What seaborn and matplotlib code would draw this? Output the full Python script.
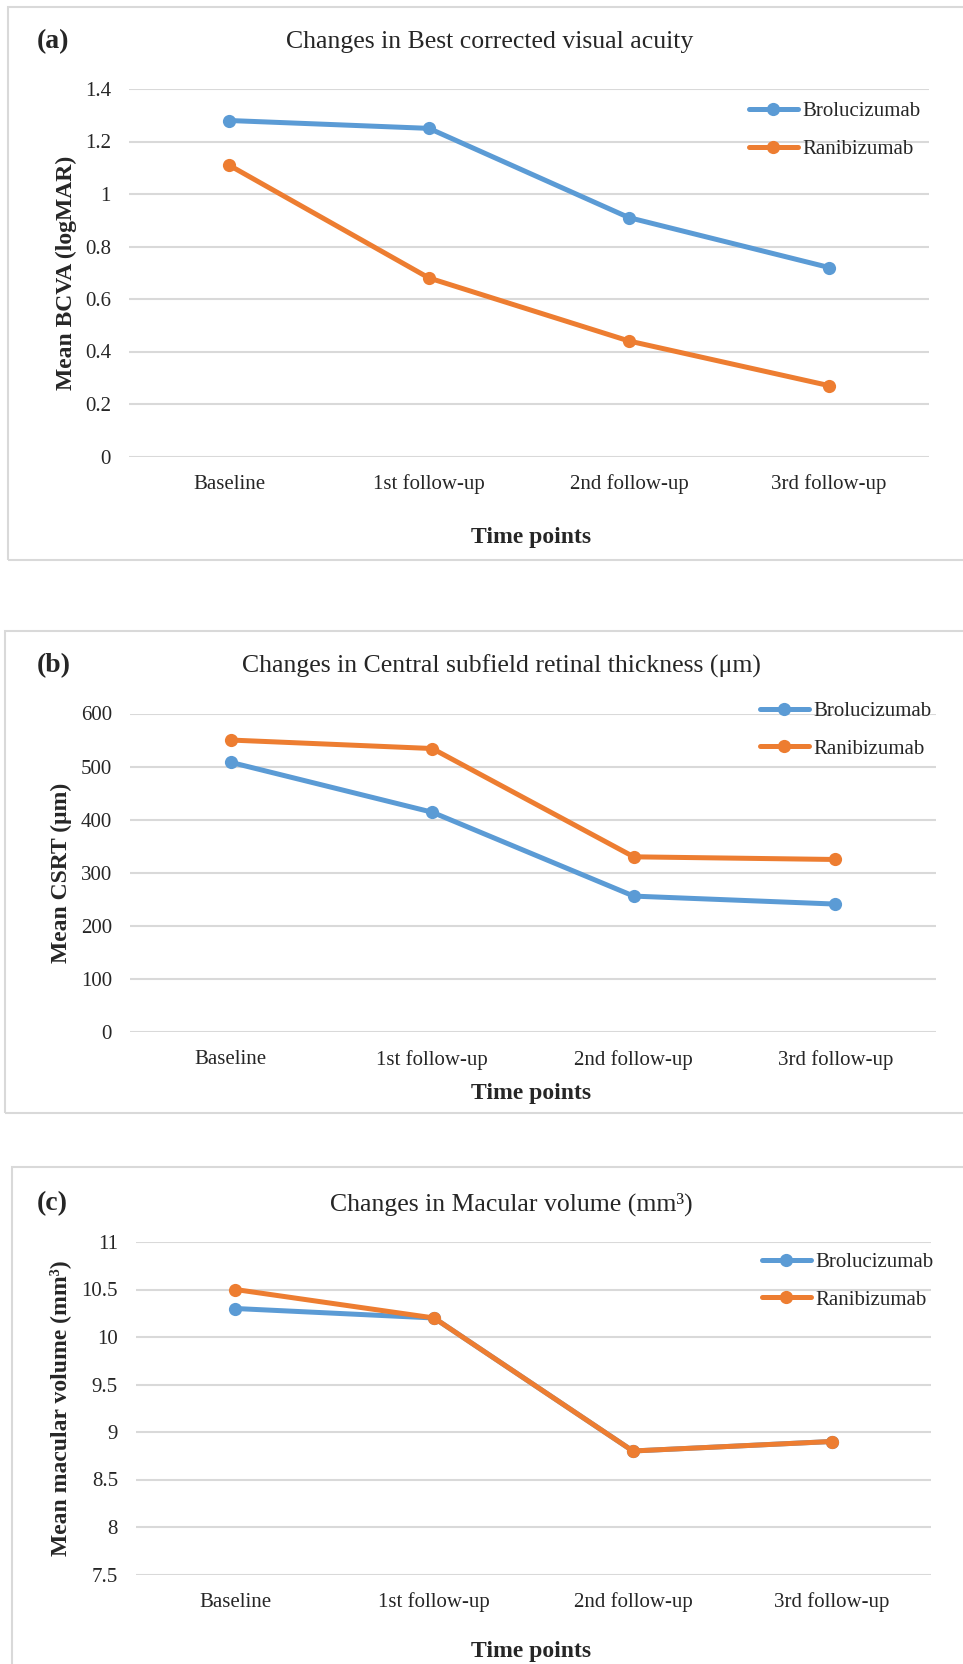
import matplotlib
matplotlib.use("Agg")
import pandas as pd
import matplotlib.pyplot as plt
import seaborn as sns
from matplotlib.patches import Rectangle

W, H = 963, 1664

time_points = ["Baseline", "1st follow-up", "2nd follow-up", "3rd follow-up"]
groups = ["Brolucizumab", "Ranibizumab"]

# (a) best corrected visual acuity, logMAR
bcva_brolucizumab = [1.28, 1.25, 0.91, 0.72]
bcva_ranibizumab = [1.11, 0.68, 0.44, 0.27]
bcva_ticks = [0, 0.2, 0.4, 0.6, 0.8, 1.0, 1.2, 1.4]

# (b) central subfield retinal thickness, um
csrt_brolucizumab = [508, 414, 256, 241]
csrt_ranibizumab = [550, 534, 330, 325]
csrt_ticks = [0, 100, 200, 300, 400, 500, 600]

# (c) macular volume, mm3
volume_brolucizumab = [10.3, 10.2, 8.8, 8.9]
volume_ranibizumab = [10.5, 10.2, 8.8, 8.9]
volume_ticks = [7.5, 8, 8.5, 9, 9.5, 10, 10.5, 11]

BLUE = "#5B9BD5"
ORANGE = "#ED7D31"
GRID = "#D9D9D9"

sns.set_theme(style="white")
plt.rcParams['font.family'] = ['Liberation Serif', 'DejaVu Serif']

fig = plt.figure(figsize=(W / 100, H / 100), dpi=100)


def fx(x):
    return x / W


def fy(y):
    return 1 - y / H


def make_df(bro, rani):
    rows = []
    for g, vals in zip(groups, [bro, rani]):
        for t, v in zip(time_points, vals):
            rows.append({"time": t, "value": v, "group": g})
    return pd.DataFrame(rows)


def draw_panel(df, box, ticks, letter, title, title_x, ylabel, frame, leg_xy,
               title_y, xlabel_y, ylabel_x):
    left, top, right, bottom = box

    # -------------------------------
    # panel frame
    # -------------------------------
    fl, ft, fr, fb = frame
    fig.patches.append(Rectangle((fx(fl), fy(fb)), fx(fr - fl), (fb - ft) / H,
                                 transform=fig.transFigure, fill=False,
                                 edgecolor=GRID, linewidth=1.5, zorder=0))

    ax = fig.add_axes([fx(left), fy(bottom), fx(right - left), (bottom - top) / H])
    sns.lineplot(data=df, x="time", y="value", hue="group", hue_order=groups,
                 palette={"Brolucizumab": BLUE, "Ranibizumab": ORANGE},
                 marker="o", markersize=9.5, markeredgewidth=0, linewidth=3.6,
                 sort=False, ax=ax)

    ax.set_xlim(-0.5, 3.5)
    ax.set_ylim(ticks[0], ticks[-1])
    ax.set_yticks(ticks)
    ax.set_yticklabels([f"{t:g}" for t in ticks])
    ax.set_xlabel("")
    ax.set_ylabel("")
    for s in ax.spines.values():
        s.set_visible(False)
    ax.grid(axis="y", color=GRID, linewidth=1.5)
    ax.grid(axis="x", visible=False)
    ax.set_axisbelow(True)
    ax.tick_params(axis="y", length=0, pad=13, labelsize=15)
    ax.tick_params(axis="x", length=0, pad=13, labelsize=15)

    # -------------------------------
    # legend
    # -------------------------------
    handles, labels = ax.get_legend_handles_labels()
    for h in handles:
        h.set_marker("o")
        h.set_markersize(9.5)
        h.set_markeredgewidth(0)
        h.set_linewidth(3.6)
    ax.legend(handles, labels, loc="center left",
              bbox_to_anchor=(fx(leg_xy[0]), fy(leg_xy[1])),
              bbox_transform=fig.transFigure, frameon=False, fontsize=15,
              handlelength=2.35, handletextpad=0.2, labelspacing=0.87,
              borderpad=0, borderaxespad=0)

    # -------------------------------
    # texts
    # -------------------------------
    fig.text(fx(37), fy(title_y), letter, fontsize=20, fontweight="bold",
             ha="left", va="center")
    fig.text(fx(title_x), fy(title_y), title, fontsize=18.5,
             ha="center", va="center")
    fig.text(fx(531), fy(xlabel_y), "Time points", fontsize=17,
             fontweight="bold", ha="center", va="center")
    fig.text(fx(ylabel_x), fy((top + bottom) / 2), ylabel, fontsize=17,
             fontweight="bold", rotation=90, ha="center", va="center")
    return ax


draw_panel(make_df(bcva_brolucizumab, bcva_ranibizumab),
           box=(129, 89, 929, 456.5), ticks=bcva_ticks, letter="(a)",
           title="Changes in Best corrected visual acuity", title_x=490,
           ylabel="Mean BCVA (logMAR)",
           frame=(7.5, 6.5, 975, 560), leg_xy=(749, 130.5),
           title_y=42, xlabel_y=538, ylabel_x=66)

draw_panel(make_df(csrt_brolucizumab, csrt_ranibizumab),
           box=(130, 713.5, 936, 1032), ticks=csrt_ticks, letter="(b)",
           title="Changes in Central subfield retinal thickness (μm)", title_x=501,
           ylabel="Mean CSRT (μm)",
           frame=(5, 631, 975, 1113), leg_xy=(760, 730),
           title_y=666, xlabel_y=1093.5, ylabel_x=61)

draw_panel(make_df(volume_brolucizumab, volume_ranibizumab),
           box=(136, 1242, 931, 1574.5), ticks=volume_ticks, letter="(c)",
           title="Changes in Macular volume (mm³)", title_x=511,
           ylabel="Mean macular volume (mm³)",
           frame=(12, 1167, 975, 1700), leg_xy=(762, 1281),
           title_y=1204, xlabel_y=1651, ylabel_x=60)

fig.savefig("out.png", dpi=100, facecolor="white")
